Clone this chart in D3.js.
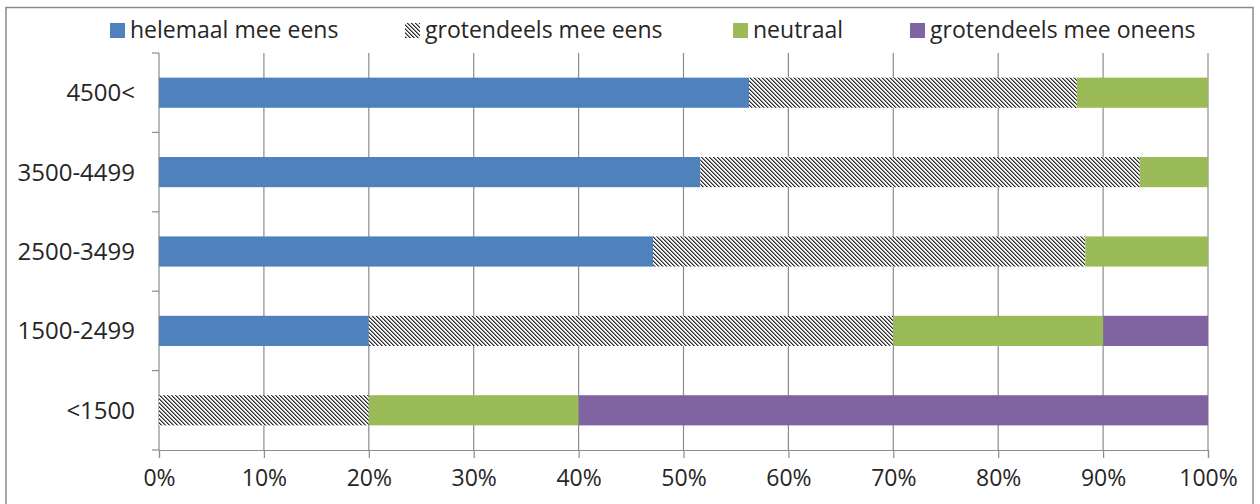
<!DOCTYPE html>
<html>
<head>
<meta charset="utf-8">
<script src="https://cdn.jsdelivr.net/npm/d3@7"></script>
<style>
  body { margin: 0; background: #fff; }
  text { font-family: 'Open Sans', sans-serif; fill: #262626; }
</style>
</head>
<body>
<script>
const categories = ['4500<', '3500-4499', '2500-3499', '1500-2499', '<1500'];
const seriesNames = ['helemaal mee eens', 'grotendeels mee eens', 'neutraal', 'grotendeels mee oneens'];
const helemaalEens = [56.25, 51.6, 47.1, 20, 0];
const grotendeelsEens = [31.25, 41.9, 41.2, 50, 20];
const neutraal = [12.5, 6.5, 11.7, 20, 20];
const grotendeelsOneens = [0, 0, 0, 10, 60];
const xTicks = [0, 10, 20, 30, 40, 50, 60, 70, 80, 90, 100];

const width = 1260;
const height = 504;
const margin = {left: 159, right: 52, top: 53, bottom: 54};

const svg = d3.select('body').append('svg')
  .attr('width', width)
  .attr('height', height);

// pixel hatch for the second series
const defs = svg.append('defs');
const hatch = defs.append('pattern')
  .attr('id', 'hatch')
  .attr('patternUnits', 'userSpaceOnUse')
  .attr('width', 4)
  .attr('height', 4);
hatch.append('rect').attr('width', 4).attr('height', 4).attr('fill', '#f4f4f4');
d3.range(4).forEach((i) => {
  hatch.append('rect').attr('x', i).attr('y', i).attr('width', 1).attr('height', 1).attr('fill', '#2a2a2a');
  hatch.append('rect').attr('x', (i + 1) % 4).attr('y', i).attr('width', 1).attr('height', 1).attr('fill', '#8a8a8a');
});

// outer frame
svg.append('rect')
  .attr('x', 6).attr('y', 7.5)
  .attr('width', 1247).attr('height', 510)
  .attr('fill', 'none')
  .attr('stroke', '#8c8c8c')
  .attr('stroke-width', 1.5);

const x = d3.scaleLinear().domain([0, 100]).range([margin.left, width - margin.right]);
const y = d3.scaleBand().domain(categories)
  .range([margin.top, height - margin.bottom])
  .paddingInner(0.62).paddingOuter(0.31);

const plotBottom = height - margin.bottom;

// gridlines
svg.append('g')
  .selectAll('line')
  .data(xTicks.slice(1))
  .join('line')
  .attr('x1', (d) => x(d)).attr('x2', (d) => x(d))
  .attr('y1', margin.top).attr('y2', plotBottom)
  .attr('stroke', '#8c8c8c')
  .attr('stroke-width', 1.2);

// bottom axis
const xAxis = svg.append('g')
  .attr('transform', `translate(0,${plotBottom})`)
  .call(d3.axisBottom(x).tickValues(xTicks).tickFormat((d) => d + '%').tickSize(8).tickPadding(12));
xAxis.select('.domain').attr('stroke', '#8c8c8c').attr('stroke-width', 1.2);
xAxis.selectAll('.tick line').attr('stroke', '#8c8c8c').attr('stroke-width', 1.2);
xAxis.selectAll('text').style('font-size', '23px').attr('fill', '#262626');

// left axis with ticks between categories
const yAxis = svg.append('g').attr('transform', `translate(${margin.left},0)`);
yAxis.append('line')
  .attr('y1', margin.top).attr('y2', plotBottom)
  .attr('stroke', '#8c8c8c').attr('stroke-width', 1.2);
const step = y.step();
yAxis.selectAll('.sep')
  .data(d3.range(categories.length + 1))
  .join('line')
  .attr('class', 'sep')
  .attr('x1', -7).attr('x2', 0)
  .attr('y1', (i) => margin.top + i * step)
  .attr('y2', (i) => margin.top + i * step)
  .attr('stroke', '#8c8c8c').attr('stroke-width', 1.2);
yAxis.selectAll('.lbl')
  .data(categories)
  .join('text')
  .attr('class', 'lbl')
  .attr('x', -24)
  .attr('y', (d) => y(d) + y.bandwidth() / 2)
  .attr('dy', '0.35em')
  .attr('text-anchor', 'end')
  .style('font-size', '24px')
  .text((d) => d);

// stacked bars
const rows = categories.map((c, i) => ({
  cat: c,
  s0: helemaalEens[i], s1: grotendeelsEens[i], s2: neutraal[i], s3: grotendeelsOneens[i],
}));
const stack = d3.stack().keys(['s0', 's1', 's2', 's3'])(rows);
const fills = ['#4f81bd', 'url(#hatch)', '#9bbb59', '#8064a2'];

svg.append('g')
  .selectAll('g')
  .data(stack)
  .join('g')
  .attr('fill', (d, i) => fills[i])
  .selectAll('rect')
  .data((d) => d.filter((v) => v[1] - v[0] > 0))
  .join('rect')
  .attr('x', (d) => x(d[0]))
  .attr('y', (d) => y(d.data.cat))
  .attr('width', (d) => x(d[1]) - x(d[0]))
  .attr('height', y.bandwidth());

// legend
const legendX = [110, 405, 733, 910];
const legend = svg.append('g');
seriesNames.forEach((name, i) => {
  legend.append('rect')
    .attr('x', legendX[i]).attr('y', 23)
    .attr('width', 15).attr('height', 15)
    .attr('fill', fills[i]);
  legend.append('text')
    .attr('x', legendX[i] + 20).attr('y', 30)
    .attr('dy', '0.35em')
    .style('font-size', '23px')
    .text(name);
});
</script>
</body>
</html>
